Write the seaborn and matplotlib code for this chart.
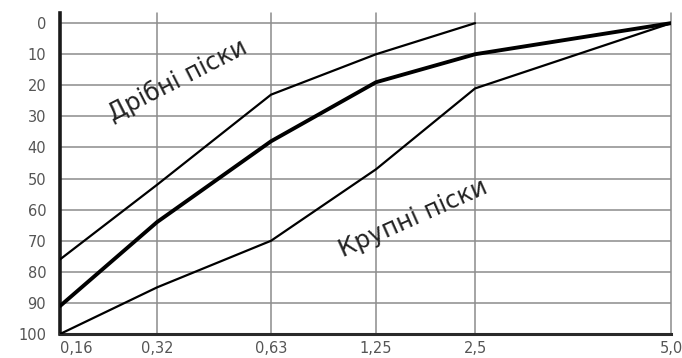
import numpy as np
import pandas as pd
import matplotlib
matplotlib.use("Agg")
import matplotlib.pyplot as plt
import seaborn as sns

# Sieve opening sizes, mm
sieve_sizes = [0.16, 0.32, 0.63, 1.25, 2.5, 5.0]
sieve_labels = ["0,16", "0,32", "0,63", "1,25", "2,5", "5,0"]

# Total residue on sieves, % (boundaries of the sand grading zone)
fine_residue = [76, 52, 23, 10, 0]          # fine sands, up to 2.5 mm
middle_residue = [91, 64, 38, 19, 10, 0]    # middle boundary
coarse_residue = [100, 85, 70, 47, 21, 0]   # coarse sands

y_ticks = list(range(0, 101, 10))

fine_label = "Дрібні піски"
coarse_label = "Крупні піски"

sns.set_style("white")
plt.rcParams["font.family"] = ["DejaVu Sans"]

fig = plt.figure(figsize=(6.82, 3.58), dpi=100)
ax = fig.add_axes([0.088, 0.067, 0.896, 0.897])

# Sieve axis drawn with an uneven, hand-laid spacing of the sieve columns
axis_slots = [0.0, 0.97, 2.11, 3.16, 4.15, 6.11]


def fwd(x):
    return np.interp(x, sieve_sizes, axis_slots)


def inv(x):
    return np.interp(x, axis_slots, sieve_sizes)


ax.set_xscale("function", functions=(fwd, inv))

fine_df = pd.DataFrame({"size": sieve_sizes[:len(fine_residue)], "residue": fine_residue})
mid_df = pd.DataFrame({"size": sieve_sizes, "residue": middle_residue})
coarse_df = pd.DataFrame({"size": sieve_sizes, "residue": coarse_residue})

sns.lineplot(data=fine_df, x="size", y="residue", ax=ax, color="black", lw=1.6, zorder=5)
sns.lineplot(data=mid_df, x="size", y="residue", ax=ax, color="black", lw=2.8, zorder=5)
sns.lineplot(data=coarse_df, x="size", y="residue", ax=ax, color="black", lw=1.6, zorder=5)

ax.set_xlim(sieve_sizes[0], sieve_sizes[-1])
ax.set_ylim(100, -3.3)

ax.set_xticks(sieve_sizes)
ax.set_xticklabels(sieve_labels)
ax.set_yticks(y_ticks)
ax.set_yticklabels([str(v) for v in y_ticks])
ax.set_xlabel("")
ax.set_ylabel("")

ax.tick_params(axis="both", length=0, labelsize=10.5, labelcolor="#555555")
ax.tick_params(axis="y", pad=10)
ax.tick_params(axis="x", pad=5)
ax.get_xticklabels()[0].set_horizontalalignment("left")

ax.grid(True, color="#8c8c8c", lw=1.1)
for gl in ax.get_xgridlines():
    gl.set_clip_on(False)

for side in ("top", "right"):
    ax.spines[side].set_visible(False)
ax.spines["left"].set_linewidth(2.6)
ax.spines["left"].set_color("#1a1a1a")
ax.spines["bottom"].set_linewidth(2.2)
ax.spines["bottom"].set_color("#2a2a2a")

ax.text(0.192, 0.79, fine_label, transform=ax.transAxes, rotation=27,
        ha="center", va="center", fontsize=17.5, color="#222222")
ax.text(0.578, 0.36, coarse_label, transform=ax.transAxes, rotation=24,
        ha="center", va="center", fontsize=17.5, color="#222222")

fig.savefig("out.png", dpi=100, facecolor="white")
